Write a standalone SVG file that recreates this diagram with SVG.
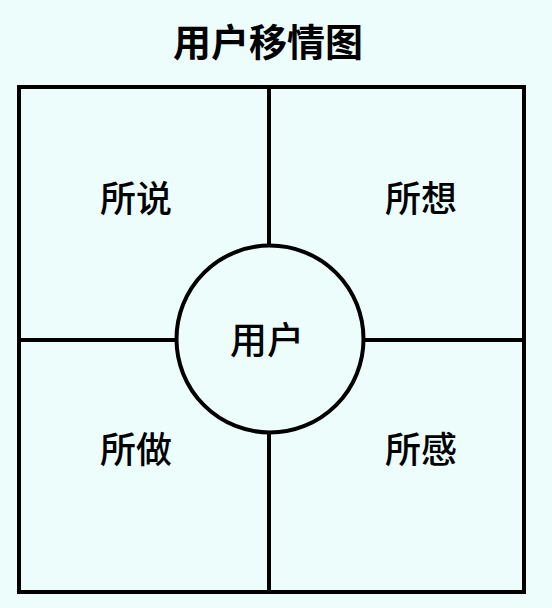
<svg xmlns="http://www.w3.org/2000/svg" width="552" height="608" viewBox="0 0 552 608">
<style>
.t{font-family:"Noto Sans CJK SC","Noto Sans",sans-serif;fill:#000;text-anchor:middle}
.title{font-size:38px;font-weight:700}
.lab{font-size:36px;font-weight:500}
.cen{font-size:37px;font-weight:500}
.ln{stroke:#000;stroke-width:4;fill:none}
</style>
<rect width="552" height="608" fill="#ecfdfb"/>
<g id="title"><text class="t title" x="268" y="56">用户移情图</text></g>
<g id="frame"><rect class="ln" x="19" y="87" width="505" height="505"/></g>
<g id="connectors">
<line class="ln" x1="269" y1="87" x2="269" y2="246"/>
<line class="ln" x1="269" y1="433" x2="269" y2="592"/>
<line class="ln" x1="19" y1="340" x2="177" y2="340"/>
<line class="ln" x1="363" y1="340" x2="524" y2="340"/>
</g>
<g id="node-say"><text class="t lab" x="136" y="212">所说</text></g>
<g id="node-think"><text class="t lab" x="421" y="212">所想</text></g>
<g id="node-do"><text class="t lab" x="136" y="463">所做</text></g>
<g id="node-feel"><text class="t lab" x="421" y="463">所感</text></g>
<g id="node-user"><circle class="ln" cx="270" cy="339" r="93.5" fill="#ecfdfb"/><text class="t cen" x="267" y="354">用户</text></g>
</svg>
